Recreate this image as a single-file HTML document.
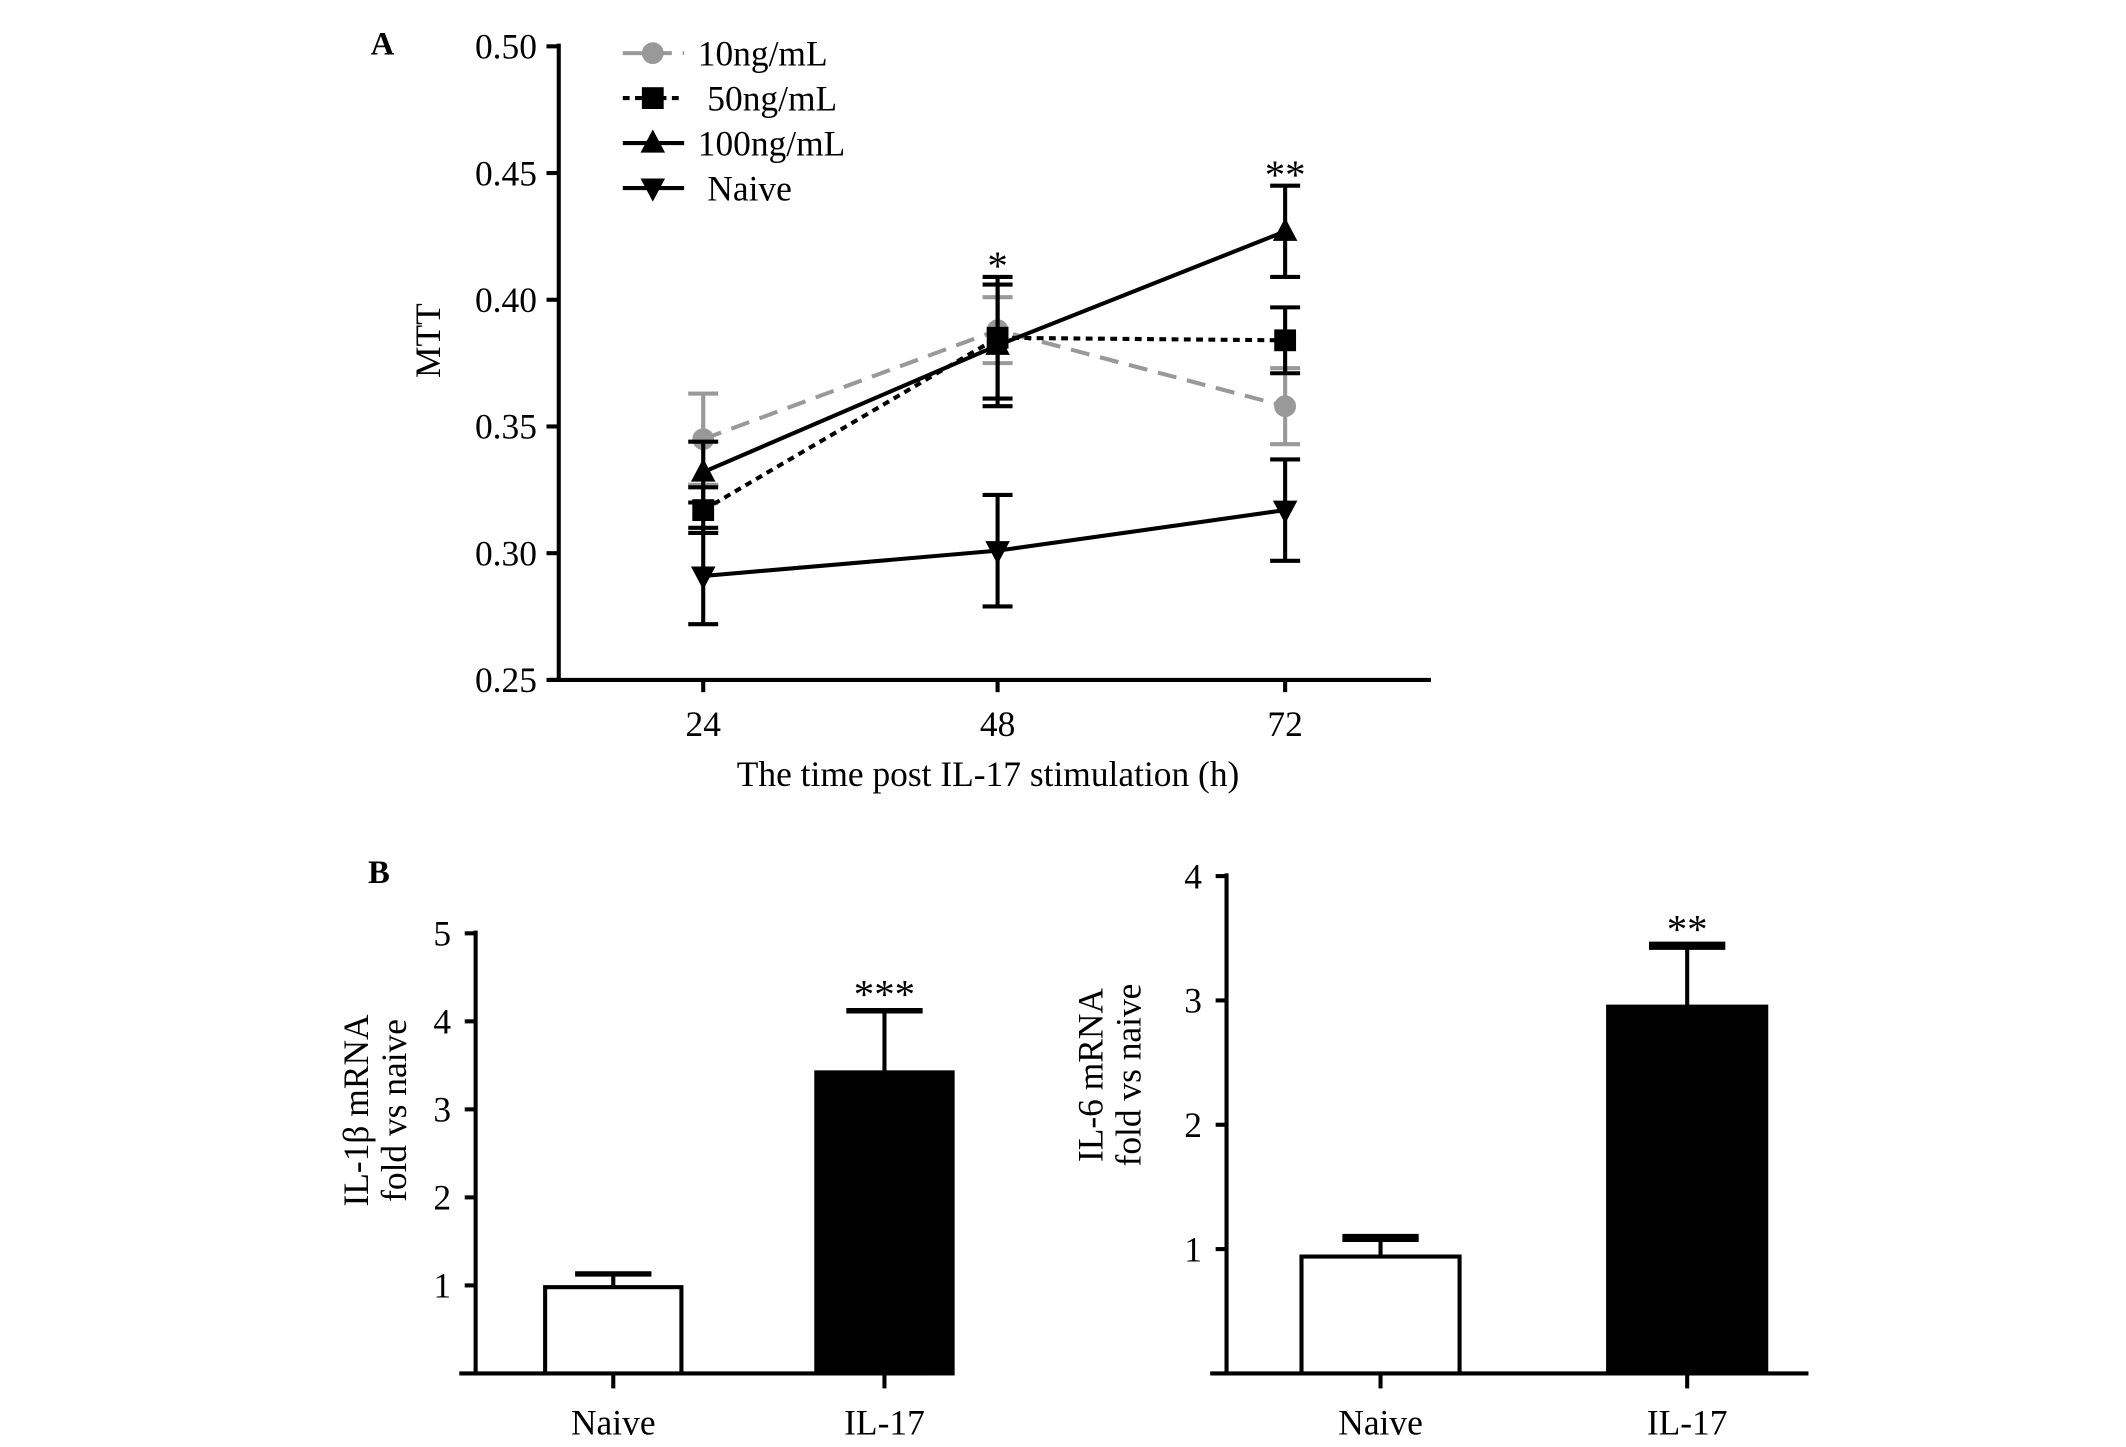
<!DOCTYPE html>
<html><head><meta charset="utf-8"><style>
html,body{margin:0;padding:0;background:#fff;}
svg{display:block;font-family:"Liberation Serif",serif;}
</style></head><body>
<svg id="fig" width="2126" height="1447" viewBox="0 0 1560 1062" preserveAspectRatio="none" xmlns="http://www.w3.org/2000/svg">
<rect width="1560" height="1062" fill="#fff"/>
<g transform="translate(-3,-3)">
<text x="275" y="43" font-size="24" font-weight="bold">A</text>
<text x="273" y="651" font-size="24" font-weight="bold">B</text>
<g id="ga"></g>
<g id="gb1"></g>
<g id="gb2"></g>
</g>
</svg>
<script>
const timeCats = ["24","48","72"];
const mttTicks = ["0.25","0.30","0.35","0.40","0.45","0.50"];
const s10 = [0.345,0.388,0.358];
const s10err = [0.018,0.013,0.015];
const s50 = [0.317,0.385,0.384];
const s50err = [0.009,0.024,0.013];
const s100 = [0.332,0.382,0.427];
const s100err = [0.012,0.024,0.018];
const sNaive = [0.291,0.301,0.317];
const sNaiveErr = [0.019,0.022,0.020];
const seriesNames = ["10ng/mL","50ng/mL","100ng/mL","Naive"];
const sigA = ["","*","**"];

const barCats = ["Naive","IL-17"];
const il1b = [0.98,3.42];
const il1bErr = [0.15,0.70];
const il1bTicks = ["1","2","3","4","5"];
const il6 = [0.94,2.95];
const il6Err = [0.15,0.49];
const il6Ticks = ["1","2","3","4"];
const sigB1 = ["","***"];
const sigB2 = ["","**"];

const FS=26;
const NS="http://www.w3.org/2000/svg";
function mk(p,t,a){const e=document.createElementNS(NS,t);for(const k in a)e.setAttribute(k,a[k]);p.appendChild(e);return e;}

// Panel A
const ga=document.getElementById('ga');
const yA=v=>502-(v-0.25)/0.05*93;
const xA=i=>[519,735,946][i];
mk(ga,'line',{x1:413,y1:35,x2:413,y2:503,stroke:'#000','stroke-width':3});
mk(ga,'line',{x1:406,y1:502,x2:1053,y2:502,stroke:'#000','stroke-width':3});
mttTicks.forEach((t,i)=>{const v=parseFloat(t);const y=yA(v);
 mk(ga,'line',{x1:404,y1:y,x2:413,y2:y,stroke:'#000','stroke-width':3});
 const tx=mk(ga,'text',{x:397,y:y+9,'font-size':FS,'text-anchor':'end'});tx.textContent=t;
 
 });
timeCats.forEach((c,i)=>{
 mk(ga,'line',{x1:xA(i),y1:502,x2:xA(i),y2:511,stroke:'#000','stroke-width':3});
 const tx=mk(ga,'text',{x:xA(i),y:543,'font-size':FS,'text-anchor':'middle'});tx.textContent=c;
 
 });
let t=mk(ga,'text',{x:728,y:580,'font-size':FS,'text-anchor':'middle'});t.textContent="The time post IL-17 stimulation (h)";

t=mk(ga,'text',{x:0,y:0,'font-size':FS,'text-anchor':'middle',transform:'translate(326,253) rotate(-90)'});t.textContent="MTT";


const styles=[
 {d:s10,e:s10err,col:'#999',dash:'14,8',m:'circle'},
 {d:s50,e:s50err,col:'#000',dash:'5,4',m:'square'},
 {d:s100,e:s100err,col:'#000',dash:'',m:'tri'},
 {d:sNaive,e:sNaiveErr,col:'#000',dash:'',m:'itri'}];
function marker(g,m,x,y,col){
 if(m==='circle')mk(g,'circle',{cx:x,cy:y,r:8,fill:col});
 else if(m==='square')mk(g,'rect',{x:x-8,y:y-8,width:16,height:16,fill:col});
 else if(m==='tri')mk(g,'polygon',{points:`${x-9},${y+7} ${x+9},${y+7} ${x},${y-10}`,fill:col});
 else mk(g,'polygon',{points:`${x-9},${y-7} ${x+9},${y-7} ${x},${y+10}`,fill:col});}
styles.forEach((s,k)=>{
 const g=mk(ga,'g',{});
 
 
 s.d.forEach((v,i)=>{const x=xA(i);
  mk(g,'line',{x1:x,y1:yA(v+s.e[i]),x2:x,y2:yA(v-s.e[i]),stroke:s.col,'stroke-width':3});
  [v+s.e[i],v-s.e[i]].forEach(w=>mk(g,'line',{x1:x-11,y1:yA(w),x2:x+11,y2:yA(w),stroke:s.col,'stroke-width':3}));});
 mk(g,'polyline',{points:s.d.map((v,i)=>xA(i)+','+yA(v)).join(' '),fill:'none',stroke:s.col,'stroke-width':3,'stroke-dasharray':s.dash});
 s.d.forEach((v,i)=>marker(g,s.m,xA(i),yA(v),s.col));
 const ly=42+k*33;
 const lg=mk(ga,'g',{});
 
 
 mk(lg,'line',{x1:460,y1:ly,x2:505,y2:ly,stroke:s.col,'stroke-width':3,'stroke-dasharray':s.dash});
 marker(lg,s.m,482,ly,s.col);
 const tx=mk(lg,'text',{x:k===1?522:(k===3?522:515),y:ly+9,'font-size':FS});tx.textContent=seriesNames[k];
});
sigA.forEach((s,i)=>{if(!s)return;const top=Math.max(...styles.map(st=>st.d[i]+st.e[i]));
 const tx=mk(ga,'text',{x:xA(i),y:yA(top)-10+12,'font-size':30,'text-anchor':'middle'});tx.textContent=s;
 });

// Bar charts
function barChart(g,vals,errs,ticks,sig,o){
 const y=v=>o.y0-v*o.unit;
 mk(g,'line',{x1:o.ax,y1:y(parseFloat(ticks[ticks.length-1]))-2,x2:o.ax,y2:o.y0,stroke:'#000','stroke-width':3});
 mk(g,'line',{x1:o.ax-12,y1:o.y0,x2:o.xend,y2:o.y0,stroke:'#000','stroke-width':3});
 ticks.forEach(tk=>{const yy=y(parseFloat(tk));
  mk(g,'line',{x1:o.ax-8,y1:yy,x2:o.ax,y2:yy,stroke:'#000','stroke-width':3});
  const tx=mk(g,'text',{x:o.ax-18,y:yy+9,'font-size':FS,'text-anchor':'end'});tx.textContent=tk;});
 vals.forEach((v,i)=>{const bx=o.bx[i],bw=o.bw,cx=bx+bw/2;
  mk(g,'line',{x1:cx,y1:y(v),x2:cx,y2:y(v+errs[i]),stroke:'#000','stroke-width':3});
  mk(g,'line',{x1:cx-o.cap,y1:y(v+errs[i]),x2:cx+o.cap,y2:y(v+errs[i]),stroke:'#000','stroke-width':o.capw});
  const r=mk(g,'rect',{x:bx,y:y(v),width:bw,height:v*o.unit,fill:i===0?'#fff':'#000',stroke:'#000','stroke-width':3});
  
  
  mk(g,'line',{x1:cx,y1:o.y0,x2:cx,y2:o.y0+11,stroke:'#000','stroke-width':3});
  const tx=mk(g,'text',{x:cx,y:o.y0+45,'font-size':FS,'text-anchor':'middle'});tx.textContent=barCats[i];
  if(sig[i]){const st=mk(g,'text',{x:cx,y:y(v+errs[i])-12+10,'font-size':30,'text-anchor':'middle'});st.textContent=sig[i];}
 });
 const l1=mk(g,'text',{x:0,y:0,'font-size':FS,'text-anchor':'middle',transform:`translate(${o.lx},${o.ly}) rotate(-90)`});l1.textContent=o.l1;
 
 const l2=mk(g,'text',{x:0,y:0,'font-size':FS,'text-anchor':'middle',transform:`translate(${o.lx+28},${o.ly}) rotate(-90)`});l2.textContent="fold vs naive";
}
barChart(document.getElementById('gb1'),il1b,il1bErr,il1bTicks,sigB1,
 {ax:352,y0:1011,unit:64.6,xend:683,bx:[403,602],bw:100,cap:28,capw:4,lx:273,ly:818,l1:"IL-1β mRNA"});
barChart(document.getElementById('gb2'),il6,il6Err,il6Ticks,sigB2,
 {ax:903,y0:1011,unit:91.25,xend:1330,bx:[958,1183],bw:116,cap:28,capw:6,lx:812,ly:792,l1:"IL-6 mRNA"});
</script>
</body></html>
